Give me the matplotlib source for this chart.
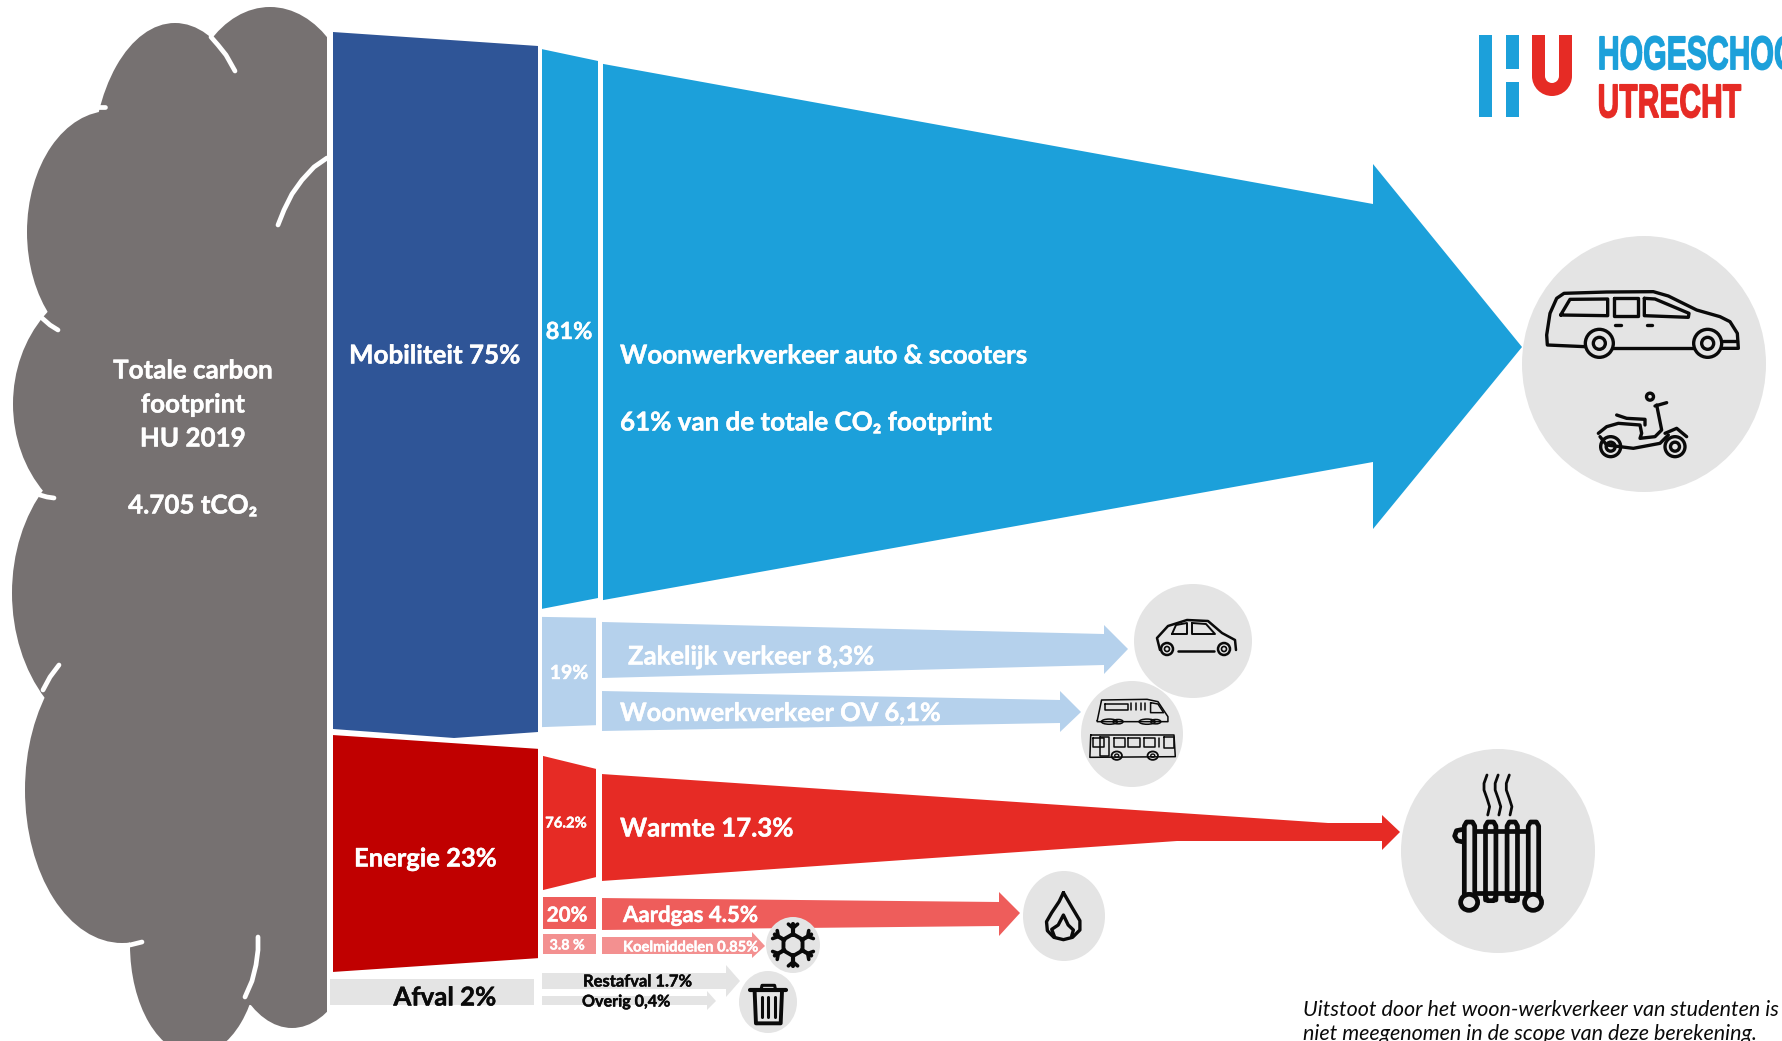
import numpy as np
import matplotlib
matplotlib.use("Agg")
import matplotlib.pyplot as plt
import matplotlib.patheffects as pe
from matplotlib.patches import Ellipse, Rectangle, Wedge

plt.rcParams['font.family'] = ['Lato', 'DejaVu Sans']

# shares in % of the total footprint (or of the parent group for the split columns)
group_pct = [75, 23, 2]
mobility_split = [81, 19]
energy_split = [76.2, 20, 3.8]
flow_mobility = [61, 8.3, 6.1]
flow_energy = [17.3, 4.5, 0.85]
flow_waste = [1.7, 0.4]

total_lines = ["Totale carbon", "footprint", "HU 2019", "4.705 tCO₂"]
group_labels = ["Mobiliteit 75%", "Energie 23%", "Afval 2%"]
mobility_split_labels = ["81%", "19%"]
energy_split_labels = ["76.2%", "20%", "3.8 %"]
flow_labels = ["Woonwerkverkeer auto & scooters", "61% van de totale CO₂ footprint",
               "Zakelijk verkeer 8,3%", "Woonwerkverkeer OV 6,1%",
               "Warmte 17.3%", "Aardgas 4.5%", "Koelmiddelen 0.85%",
               "Restafval 1.7%", "Overig 0,4%"]
note_lines = ["Uitstoot door het woon-werkverkeer van studenten is",
              "niet meegenomen in de scope van deze berekening."]

CLOUD = "#767171"
NAVY = "#2F5597"
CYAN = "#1CA0DA"
PALE = "#B5D1EC"
DARKRED = "#C00000"
RED = "#E62B25"
SALMON = "#EE5D5B"
PINK = "#F39090"
GREY = "#E4E4E4"
INK = "#0A0A0A"

fig = plt.figure(figsize=(17.83, 10.41), dpi=100)
ax = fig.add_axes([0, 0, 1, 1])
ax.set_xlim(0, 1783)
ax.set_ylim(1041, 0)
ax.axis("off")


def column(value, x0, x1, mid0, mid1, k0, k1, color, notch=None):
    # slanted block, left and right height follow the value
    h0, h1 = value * k0, value * k1
    xs = [x0, x1, x1]
    ys = [mid0 - h0 / 2, mid1 - h1 / 2, mid1 + h1 / 2]
    if notch:
        xs.append(notch[0])
        ys.append(notch[1])
    xs.append(x0)
    ys.append(mid0 + h0 / 2)
    ax.fill(xs, ys, color=color, lw=0, zorder=2)


def flow(value, k, x0, mid0, x_base, base_top, base_bot, head_top, head_bot, x_tip, y_tip, color,
         top_kink=None, bot_kink=None):
    # tapered band with an arrow head, start height follows the value
    h = value * k
    xs = [x0]
    ys = [mid0 - h / 2]
    if top_kink:
        xs.append(top_kink[0])
        ys.append(top_kink[1])
    xs += [x_base, x_base, x_tip, x_base, x_base]
    ys += [base_top, head_top, y_tip, head_bot, base_bot]
    if bot_kink:
        xs.append(bot_kink[0])
        ys.append(bot_kink[1])
    xs.append(x0)
    ys.append(mid0 + h / 2)
    ax.fill(xs, ys, color=color, lw=0, zorder=2)


def label(x, y, s, size, color="white", ha="left", weight="bold", style="normal"):
    t = ax.text(x, y + 1.5, s, fontsize=size, color=color, ha=ha, va="center", fontweight=weight,
                fontstyle=style, zorder=6)
    if weight == "bold":
        # Lato bold is a bit light next to the band colours
        t.set_path_effects([pe.withStroke(linewidth=0.3, foreground=color)])


def line(pts, lw=2.4, color=INK, ox=0, oy=0, sx=1, sy=1, close=False):
    pts = np.array(pts, dtype=float)
    if close:
        pts = np.vstack([pts, pts[0]])
    ax.plot(ox + pts[:, 0] / sx, oy + pts[:, 1] / sy, color=color, lw=lw, zorder=5,
            solid_capstyle="round", solid_joinstyle="round")


def ring(x, y, rx, ry, lw=2.4):
    ax.add_patch(Ellipse((x, y), 2 * rx, 2 * ry, fc="none", ec=INK, lw=lw, zorder=5))


def badge(x, y, rx, ry):
    ax.add_patch(Ellipse((x, y), 2 * rx, 2 * ry, fc=GREY, ec="none", zorder=3))


def squeeze(factor, shift):
    # agg filter: narrows a rendered text horizontally and moves it right by shift pixels
    def apply(img, dpi):
        w = img.shape[1]
        pos = np.linspace(0, w - 1, max(1, int(w * factor)))
        lo = pos.astype(int)
        hi = np.minimum(lo + 1, w - 1)
        t = (pos - lo)[None, :, None]
        return img[:, lo] * (1 - t) + img[:, hi] * t, shift, 0
    return apply


# cloud, built from overlapping lobes and cut off straight on the right
clip = Rectangle((0, 0), 327, 1041, transform=ax.transData)
lobes = [(270, 130, 87, 123), (175, 170, 83, 147), (110, 232, 83, 121), (120, 404, 107, 125),
         (125, 593, 113, 149), (122, 790, 97, 153), (195, 945, 65, 110), (292, 900, 72, 128)]
for cx, cy, rx, ry in lobes:
    lobe = Ellipse((cx, cy), 2 * rx, 2 * ry, fc=CLOUD, ec="none", zorder=1)
    ax.add_patch(lobe)
    lobe.set_clip_path(clip)
body_x = [327, 230, 100, 60, 50, 50, 60, 130, 200, 300, 327]
body_y = [40, 60, 150, 300, 400, 600, 800, 900, 1000, 1010, 1010]
ax.fill(body_x, body_y, color=CLOUD, lw=0, zorder=1)

# white creases between the lobes
creases = [[(211, 37), (218, 45), (226, 55), (235, 71)],
           [(98, 107), (105, 107)],
           [(42, 318), (50, 325), (58, 330)],
           [(40, 495), (47, 497), (54, 498)],
           [(327, 158), (314, 167), (302, 180), (292, 194), (284, 210), (278, 225)],
           [(59, 665), (50, 677), (43, 690)],
           [(130, 945), (142, 942)],
           [(258, 937), (258, 950), (256, 965), (252, 981), (245, 997)]]
for c in creases:
    line(c, lw=3.4, color="white")

# first level: the three groups
column(group_pct[0], 333, 538, 380.5, 389, 9.293, 9.147, NAVY, notch=(454, 738))
column(group_pct[1], 333, 538, 853.5, 853.5, 10.3, 9.1, DARKRED)
column(group_pct[2], 330, 534, 992, 992, 13, 13, GREY)

# second level: how each group splits up
column(mobility_split[0], 542, 598, 329, 329.5, 6.91, 6.63, CYAN)
column(mobility_split[1], 542, 596, 672, 671.5, 5.8, 5.65, PALE)
column(energy_split[0], 543, 596, 823, 823, 1.76, 1.42, RED)
column(energy_split[1], 543, 596, 913, 913, 1.6, 1.6, SALMON)
column(energy_split[2], 543, 596, 944, 944, 5.3, 5.3, PINK)

# third level: the arrows to the emission sources
flow(flow_mobility[0], 8.79, 603, 332, 1373, 204, 462, 164, 529, 1522, 347, CYAN)
flow(flow_mobility[1], 6.75, 602, 650, 1104, 634, 665, 625, 674, 1128, 649, PALE)
flow(flow_mobility[2], 6.55, 602, 711, 1060, 700, 723, 691, 732, 1081, 712, PALE)
flow(flow_energy[0], 6.18, 602, 827.5, 1382, 823, 841, 815, 850, 1400, 832, RED,
     top_kink=(1328, 823), bot_kink=(1177, 841))
flow(flow_energy[1], 7.1, 602, 914, 999, 902, 926, 892, 936, 1020, 913, SALMON)
flow(flow_energy[2], 20, 602, 945.5, 752, 937, 954, 932, 958, 765, 946, PINK)
flow(flow_waste[0], 9.4, 542, 981, 726, 973, 989, 965, 997, 740, 981, GREY)
flow(flow_waste[1], 22.5, 542, 1000.5, 707, 996, 1005, 991, 1010, 716, 1001, GREY)

# icon badges
badge(1644, 364, 122, 128)
badge(1193, 641, 59, 57)
badge(1132, 734, 51, 53)
badge(1498, 851, 97, 102)
badge(1064, 916, 41, 45)
badge(793, 945, 27, 28)
badge(768, 1002, 29, 31)

# minivan
van = dict(ox=1340, oy=0, sx=3, sy=3)
line([(735, 1040), (622, 1035), (620, 1005), (630, 940), (650, 895), (672, 880), (800, 876), (940, 875),
      (985, 888), (1070, 930), (1140, 950), (1170, 965), (1192, 1000), (1195, 1045), (1145, 1045)], **van)
line([(820, 1043), (1060, 1043)], **van)
line([(662, 945), (690, 898), (803, 897), (803, 947)], close=True, **van)
line([(823, 895), (893, 895), (893, 947), (823, 947)], close=True, **van)
line([(913, 895), (945, 897), (1047, 940), (1045, 952), (913, 947)], close=True, **van)
line([(825, 975), (842, 975)], **van)
line([(920, 975), (937, 975)], **van)
line([(1150, 1022), (1190, 1022)], **van)
for wx in [778, 1103]:
    ring(1340 + wx / 3, 1030 / 3, 14, 14)
    ring(1340 + wx / 3, 1030 / 3, 6, 6)

# scooter
line([(775, 1300), (800, 1280), (835, 1270), (900, 1275), (905, 1300), (900, 1315), (945, 1310), (965, 1290),
      (950, 1215)], **van)
line([(830, 1245), (860, 1255), (915, 1258), (915, 1275)], **van)
line([(975, 1300), (1010, 1285), (1040, 1310)], **van)
line([(780, 1310), (800, 1335), (880, 1345), (960, 1330), (985, 1305)], **van)
line([(945, 1218), (980, 1208)], **van)
ring(1340 + 930 / 3, 1190 / 3, 3.5, 3.5)
for wx, r in [(1005, 10), (812, 10)]:
    ring(1340 + wx / 3, 1340 / 3, r, r)
    ring(1340 + wx / 3, 1340 / 3, 4.5, 4.5)

# small car
line([(1160, 650), (1157, 638), (1168, 626), (1187, 620), (1208, 621), (1222, 633), (1235, 640), (1236, 650)],
     lw=1.8)
line([(1178, 651), (1214, 651)], lw=1.8)
line([(1172, 634), (1176, 625), (1187, 623), (1187, 634)], close=True, lw=1.4)
line([(1192, 623), (1206, 624), (1215, 634), (1192, 634)], close=True, lw=1.4)
for wx in [1167, 1224]:
    ring(wx, 649, 6, 6, lw=1.8)
    ring(wx, 649, 2.5, 2.5, lw=1.2)

# train and bus
tb = dict(ox=540, oy=580, sx=2.306, sy=3, lw=1.1)
line([(1285, 422), (1295, 360), (1400, 358), (1425, 365), (1448, 410), (1448, 425), (1285, 425)], close=True, **tb)
line([(1303, 372), (1355, 372), (1355, 390), (1303, 390)], close=True, **tb)
line([(1408, 368), (1425, 372), (1438, 398), (1408, 398)], close=True, **tb)
for wx in [1362, 1375, 1385, 1395]:
    line([(wx, 370), (wx, 390)], **tb)
for wx in [1313, 1400]:
    ring(540 + wx / 2.306, 580 + 425 / 3, 8, 2.6, lw=1.1)
    ring(540 + (wx + 20) / 2.306, 580 + 425 / 3, 5, 2.2, lw=1.1)
line([(1270, 465), (1462, 465), (1465, 530), (1268, 532)], close=True, **tb)
for wx in [1275, 1323, 1357, 1392]:
    line([(wx, 475), (wx + 26, 475), (wx + 26, 500), (wx, 500)], close=True, **tb)
line([(1292, 472), (1312, 472), (1312, 528), (1292, 528)], close=True, **tb)
line([(1428, 475), (1428, 500)], **tb)
line([(1438, 472), (1462, 472), (1462, 505), (1438, 505)], close=True, **tb)
for wx in [1330, 1413]:
    ring(540 + wx / 2.306, 580 + 527 / 3, 5.2, 4.2, lw=1.3)
    ring(540 + wx / 2.306, 580 + 527 / 3, 2, 1.6, lw=1)

# radiator with rising heat
rad = dict(ox=1200, oy=720, sx=2.69, sy=3, lw=3.4)
for wx, bottom in [(725, 525), (782, 540), (840, 540), (897, 525)]:
    line([(wx - 14, bottom), (wx - 14, 318), (wx - 8, 306), (wx + 8, 306), (wx + 14, 318), (wx + 14, bottom)], **rad)
    if bottom == 540:
        line([(wx - 14, 530), (wx - 8, 542), (wx + 8, 542), (wx + 14, 530)], **rad)
line([(740, 332), (880, 332)], **rad)
line([(740, 518), (880, 518)], **rad)
line([(708, 328), (690, 332), (685, 348), (692, 362), (708, 366)], **rad)
for wx in [724, 896]:
    ring(1200 + wx / 2.69, 720 + 547 / 3, 8.5, 8, lw=3.4)
steam = [(0, 0), (-8, 25), (-8, 45), (0, 70), (7, 95), (2, 120)]
for wx in [772, 802, 832]:
    line([(wx + dx, 165 + dy) for dx, dy in steam], ox=1200, oy=720, sx=2.69, sy=3, lw=2)

# flame
fl = dict(ox=540, oy=580, sx=2.306, sy=3, lw=2.4)
line([(1207, 938), (1197, 965), (1180, 998), (1168, 1025), (1170, 1052), (1185, 1072), (1207, 1079), (1228, 1072),
      (1245, 1050), (1245, 1022), (1228, 985), (1207, 938)], **fl)
line([(1187, 1072), (1180, 1048), (1195, 1035), (1207, 1005), (1218, 1035), (1230, 1050), (1226, 1068)], **fl)

# snowflake
for ang in np.arange(0, 360, 60):
    a = np.radians(ang + 90)
    ca, sa = np.cos(a), np.sin(a)
    line([(793 + 10 * ca, 945 + 10 * sa), (793 + 21 * ca, 945 + 21 * sa)], lw=3)
    for off in [-50, 50]:
        b = a + np.radians(off)
        line([(793 + 17 * ca, 945 + 17 * sa), (793 + 17 * ca + 6 * np.cos(b), 945 + 17 * sa + 6 * np.sin(b))], lw=2.6)
angs = np.radians(np.arange(0, 361, 60) + 30)
line(np.column_stack([793 + 11 * np.cos(angs), 945 + 11 * np.sin(angs)]), lw=2.8)

# bin
tr = dict(ox=540, oy=580, sx=2.306, sy=3)
line([(485, 1230), (567, 1230)], lw=3, **tr)
line([(510, 1228), (512, 1216), (541, 1216), (543, 1228)], lw=2.2, **tr)
line([(495, 1236), (498, 1330), (555, 1330), (558, 1236)], lw=2.8, **tr)
for wx in [511, 526, 541]:
    line([(wx, 1250), (wx, 1312)], lw=2.2, **tr)

# logo
ax.fill([1479, 1492, 1492, 1479], [35, 35, 117, 117], color=CYAN, lw=0)
ax.fill([1506, 1519, 1519, 1506], [35, 35, 69, 69], color=CYAN, lw=0)
ax.fill([1506, 1519, 1519, 1506], [82, 82, 117, 117], color=CYAN, lw=0)
ax.fill([1532, 1545, 1545, 1532], [35, 35, 76, 76], color=RED, lw=0)
ax.fill([1559, 1572, 1572, 1559], [35, 35, 76, 76], color=RED, lw=0)
ax.add_patch(Wedge((1552, 76), 20, 0, 180, width=13, color=RED, lw=0))
# the logo lettering is very condensed, so the text is squeezed when it is rendered;
# both lines start further left so all of it is on the canvas before the filter runs
top = ax.text(1444, 69, "HOGESCHOOL", fontsize=33.6, color=CYAN, va="baseline", fontweight="bold",
              family="Liberation Sans", path_effects=[pe.withStroke(linewidth=1.4, foreground=CYAN)])
top.set_agg_filter(squeeze(0.65, 153))
low = ax.text(1540, 117, "UTRECHT", fontsize=33.6, color=RED, va="baseline", fontweight="bold",
              family="Liberation Sans", path_effects=[pe.withStroke(linewidth=1.4, foreground=RED)])
low.set_agg_filter(squeeze(0.65, 57))

# text on the cloud and the bands
for y, s in zip([369, 403, 437, 504], total_lines):
    label(193, y, s, 18.7, ha="center")
label(349, 354, group_labels[0], 18.7)
label(354, 857, group_labels[1], 18.4)
label(445, 996, group_labels[2], 18.6, color=INK, ha="center")
label(569, 330, mobility_split_labels[0], 17, ha="center")
label(569, 672, mobility_split_labels[1], 14, ha="center")
label(566, 822, energy_split_labels[0], 10.7, ha="center")
label(567, 914, energy_split_labels[1], 14.8, ha="center")
label(567, 944, energy_split_labels[2], 10.3, ha="center")
label(620, 354, flow_labels[0], 18.7)
label(620, 421, flow_labels[1], 18.7)
label(628, 655, flow_labels[2], 18.5)
label(620, 712, flow_labels[3], 18.3)
label(620, 827, flow_labels[4], 18.6)
label(623, 914, flow_labels[5], 16)
label(623, 946, flow_labels[6], 10.6)
label(583, 980, flow_labels[7], 11.9, color=INK)
label(582, 1001, flow_labels[8], 11.6, color=INK)
label(1303, 1009, note_lines[0], 15.45, color=INK, weight="normal", style="italic")
label(1303, 1033, note_lines[1], 15.45, color=INK, weight="normal", style="italic")

fig.savefig("out.png", dpi=100)
